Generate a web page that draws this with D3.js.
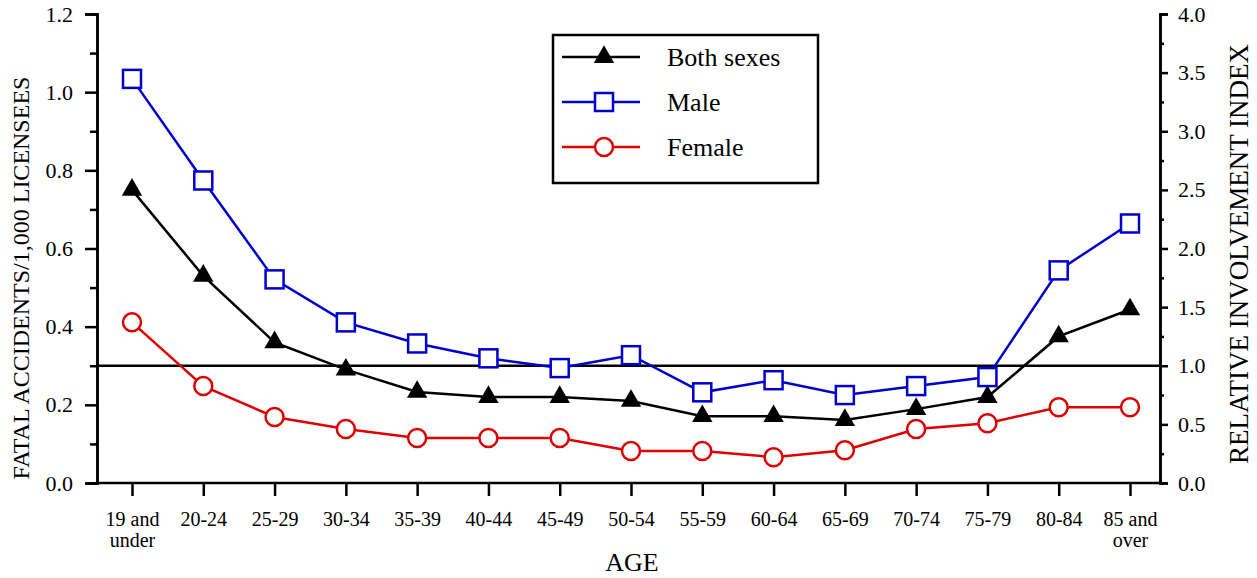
<!DOCTYPE html>
<html>
<head>
<meta charset="utf-8">
<script src="https://cdn.jsdelivr.net/npm/d3@7/dist/d3.min.js"></script>
<style>
  body { margin: 0; background: #fff; }
  svg text { font-family: "Liberation Serif", "Times New Roman", serif; fill: #000; }
</style>
</head>
<body>
<svg id="chart" width="1257" height="578"></svg>
<script>
// age groups (second line of label after "|")
var ageGroups = ['19 and|under', '20-24', '25-29', '30-34', '35-39', '40-44', '45-49',
    '50-54', '55-59', '60-64', '65-69', '70-74', '75-79', '80-84', '85 and|over'];

// fatal accidents per 1,000 licensees
var bothSexes = [0.75, 0.53, 0.36, 0.29, 0.233, 0.22, 0.22, 0.21, 0.171, 0.171, 0.161, 0.189, 0.22, 0.375, 0.444];
var male      = [1.034, 0.774, 0.521, 0.411, 0.357, 0.319, 0.294, 0.327, 0.232, 0.263, 0.225, 0.248, 0.271, 0.544, 0.664];
var female    = [0.411, 0.248, 0.169, 0.138, 0.115, 0.115, 0.115, 0.082, 0.082, 0.066, 0.084, 0.138, 0.153, 0.194, 0.194];

var leftTicks = [0, 0.2, 0.4, 0.6, 0.8, 1.0, 1.2];
var leftMinor = [0.1, 0.3, 0.5, 0.7, 0.9, 1.1];
var rightTicks = [0, 0.5, 1.0, 1.5, 2.0, 2.5, 3.0, 3.5, 4.0];
var rightMinor = [0.25, 0.75, 1.25, 1.75, 2.25, 2.75, 3.25, 3.75];
var referenceIndex = 1.0;

var seriesNames = ['Both sexes', 'Male', 'Female'];

var serif = '"Liberation Serif", "Times New Roman", serif';

var svg = d3.select('#chart');

var plot = {left: 97, right: 1160, top: 14, bottom: 483};

var x = d3.scalePoint()
    .domain(ageGroups)
    .range([132, 1130]);

var yLeft = d3.scaleLinear()
    .domain([0, 1.2])
    .range([plot.bottom, plot.top]);

var yRight = d3.scaleLinear()
    .domain([0, 4])
    .range([plot.bottom, plot.top]);

var series = [
    {name: seriesNames[0], values: bothSexes, color: '#000000', marker: 'triangle'},
    {name: seriesNames[1], values: male, color: '#0000cc', marker: 'square'},
    {name: seriesNames[2], values: female, color: '#dd0000', marker: 'circle'}
];

drawAxes();
drawReference();
drawSeries();
drawLegend();

function drawAxes() {
    // left axis with major + minor ticks
    var left = svg.append('g')
        .attr('transform', 'translate(' + plot.left + ',0)')
        .call(d3.axisLeft(yLeft).tickValues(leftTicks).tickSize(12).tickPadding(12)
            .tickFormat(d3.format('.1f')));
    left.append('g').call(d3.axisLeft(yLeft).tickValues(leftMinor).tickSize(7).tickFormat(''));

    // right axis
    var right = svg.append('g')
        .attr('transform', 'translate(' + plot.right + ',0)')
        .call(d3.axisRight(yRight).tickValues(rightTicks).tickSize(8).tickPadding(10)
            .tickFormat(d3.format('.1f')));
    right.append('g').call(d3.axisRight(yRight).tickValues(rightMinor).tickSize(4).tickFormat(''));

    // bottom axis
    var bottom = svg.append('g')
        .attr('transform', 'translate(0,' + plot.bottom + ')')
        .call(d3.axisBottom(x).tickSize(13).tickFormat(''));

    bottom.selectAll('.tick').append('text')
        .attr('y', 43)
        .attr('text-anchor', 'middle')
        .each(function(d) {
            var parts = d.split('|');
            var t = d3.select(this);
            parts.forEach(function(p, i) {
                t.append('tspan').attr('x', 0).attr('dy', i === 0 ? 0 : 21).text(p);
            });
        });

    // full width baseline
    svg.append('line')
        .attr('x1', plot.left - 1).attr('x2', plot.right + 1)
        .attr('y1', plot.bottom).attr('y2', plot.bottom)
        .attr('stroke', '#000').attr('stroke-width', 2.5);

    [left, right, bottom].forEach(function(g) {
        g.attr('font-family', serif);
        g.selectAll('.domain').attr('stroke', '#000').attr('stroke-width', 2.5);
        g.selectAll('.tick line').attr('stroke', '#000').attr('stroke-width', 2.5);
        g.selectAll('.tick text').style('font-size', '22px')
            .style('font-family', serif).attr('fill', '#000');
    });
    bottom.select('.domain').remove();
    bottom.selectAll('.tick text').style('font-size', '20px');

    // axis titles
    svg.append('text')
        .attr('transform', 'translate(29,278) rotate(-90)')
        .attr('text-anchor', 'middle')
        .style('font-size', '24px')
        .text('FATAL ACCIDENTS/1,000 LICENSEES');

    svg.append('text')
        .attr('transform', 'translate(1248,254) rotate(-90)')
        .attr('text-anchor', 'middle')
        .style('font-size', '27px')
        .text('RELATIVE INVOLVEMENT INDEX');

    svg.append('text')
        .attr('x', 632)
        .attr('y', 571)
        .attr('text-anchor', 'middle')
        .style('font-size', '26px')
        .text('AGE');
}

function drawReference() {
    svg.append('line')
        .attr('x1', plot.left).attr('x2', plot.right)
        .attr('y1', yRight(referenceIndex)).attr('y2', yRight(referenceIndex))
        .attr('stroke', '#000')
        .attr('stroke-width', 2.5);
}

function drawMarker(g, type, color) {
    if (type === 'triangle') {
        g.append('path')
            .attr('d', d3.symbol().type(d3.symbolTriangle).size(180)())
            .attr('fill', '#000');
    } else if (type === 'square') {
        g.append('rect')
            .attr('x', -9).attr('y', -9)
            .attr('width', 18).attr('height', 18)
            .attr('fill', '#fff')
            .attr('stroke', color)
            .attr('stroke-width', 2.5);
    } else {
        g.append('circle')
            .attr('r', 9)
            .attr('fill', '#fff')
            .attr('stroke', color)
            .attr('stroke-width', 2.5);
    }
}

function drawSeries() {
    var line = d3.line()
        .x(function(d, i) { return x(ageGroups[i]); })
        .y(function(d) { return yLeft(d); });

    series.forEach(function(s) {
        svg.append('path')
            .datum(s.values)
            .attr('d', line)
            .attr('fill', 'none')
            .attr('stroke', s.color)
            .attr('stroke-width', 2.5);
    });

    series.forEach(function(s) {
        s.values.forEach(function(v, i) {
            var g = svg.append('g')
                .attr('transform', 'translate(' + x(ageGroups[i]) + ',' + yLeft(v) + ')');
            drawMarker(g, s.marker, s.color);
        });
    });
}

function drawLegend() {
    var legend = svg.append('g');

    legend.append('rect')
        .attr('x', 553).attr('y', 35)
        .attr('width', 265).attr('height', 148)
        .attr('fill', '#fff')
        .attr('stroke', '#000')
        .attr('stroke-width', 2.5);

    series.forEach(function(s, i) {
        var yy = 57 + i * 45;
        legend.append('line')
            .attr('x1', 562).attr('x2', 640)
            .attr('y1', yy).attr('y2', yy)
            .attr('stroke', s.color)
            .attr('stroke-width', 2.5);
        var g = legend.append('g').attr('transform', 'translate(604,' + yy + ')');
        drawMarker(g, s.marker, s.color);
        legend.append('text')
            .attr('x', 667)
            .attr('y', yy + 9)
            .style('font-size', '26px')
            .text(s.name);
    });
}
</script>
</body>
</html>
